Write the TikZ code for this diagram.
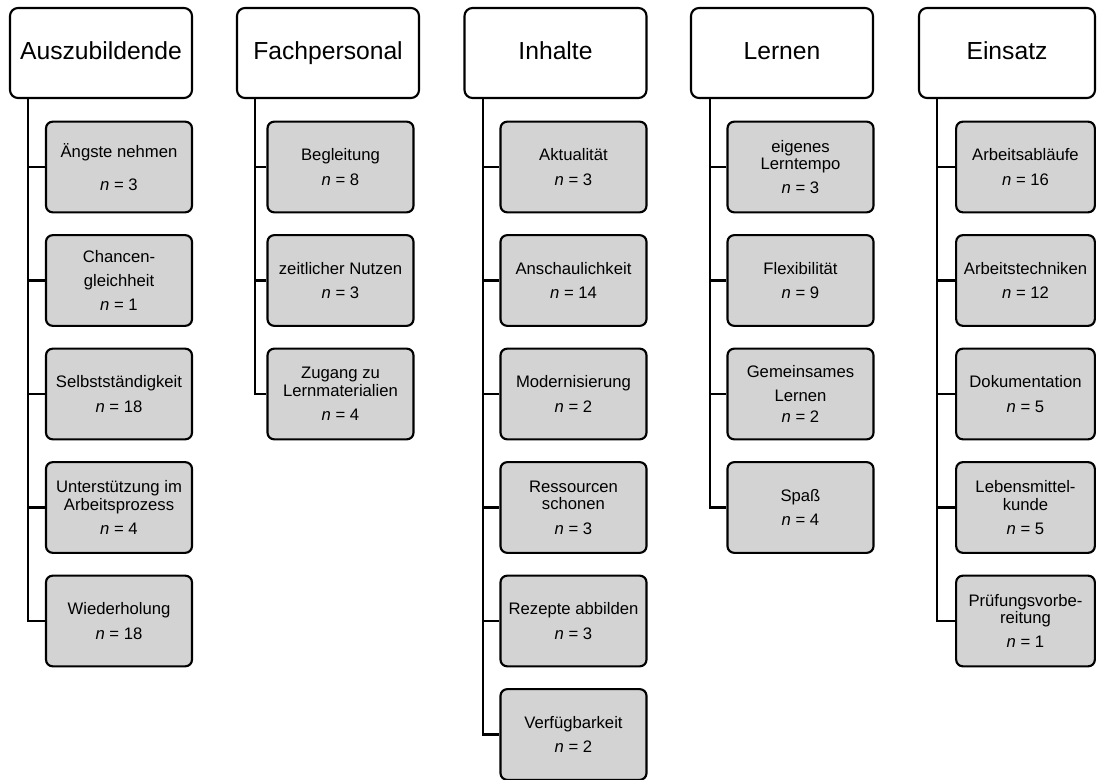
\documentclass[tikz,border=0pt]{standalone}
\usepackage{fontspec}
\setmainfont{Liberation Sans}
\usetikzlibrary{positioning}

\definecolor{kastengrau}{RGB}{211,211,211}
\newcommand{\nwert}[1]{\textit{n} = #1}

\tikzset{
  kopf/.style={draw, line width=1.6pt, rounded corners=6pt, fill=white,
    minimum width=136.5pt, minimum height=67.5pt, inner sep=0pt,
    text height=13.5pt, text depth=4pt,
    font=\fontsize{18.5}{22}\selectfont},
  kind/.style={draw, line width=1.6pt, rounded corners=5pt, fill=kastengrau,
    minimum width=109.5pt, minimum height=68pt, inner sep=0pt, align=center,
    font=\fontsize{12.5}{13.2}\selectfont},
  ast/.style={line width=1.6pt}
}

\begin{document}
\begin{tikzpicture}[x=0.75pt, y=-0.75pt]
  \useasboundingbox (0,0) rectangle (1097,780);

  % Auszubildende
  \node[kopf] (k1) at (101,53) {Auszubildende};
  \coordinate (t1) at (28,98);
  \foreach \txt [count=\k] in {
      {Ängste nehmen\\[11pt]\nwert{3}},
      {Chancen-\\[5pt]gleichheit\\[5pt]\nwert{1}},
      {Selbstständigkeit\\[5pt]\nwert{18}},
      {Unterstützung im\\Arbeitsprozess\\[5pt]\nwert{4}},
      {Wiederholung\\[5pt]\nwert{18}}}{
    \node[kind] (a\k) at (119,{167+113.5*(\k-1)}) {\txt};
    \draw[ast] (t1) |- (a\k.west);
  }

  % Fachpersonal
  \node[kopf] (k2) at (328,53) {Fachpersonal};
  \coordinate (t2) at (255,98);
  \foreach \txt [count=\k] in {
      {Begleitung\\[5pt]\nwert{8}},
      {zeitlicher Nutzen\\[5pt]\nwert{3}},
      {Zugang zu\\Lernmaterialien\\[5pt]\nwert{4}}}{
    \node[kind] (b\k) at (340.5,{167+113.5*(\k-1)}) {\txt};
    \draw[ast] (t2) |- (b\k.west);
  }

  % Inhalte
  \node[kopf] (k3) at (555.5,53) {Inhalte};
  \coordinate (t3) at (483,98);
  \foreach \txt [count=\k] in {
      {Aktualität\\[5pt]\nwert{3}},
      {Anschaulichkeit\\[5pt]\nwert{14}},
      {Modernisierung\\[5pt]\nwert{2}},
      {Ressourcen\\schonen\\[5pt]\nwert{3}},
      {Rezepte abbilden\\[5pt]\nwert{3}},
      {Verfügbarkeit\\[5pt]\nwert{2}}}{
    \node[kind] (c\k) at (573.5,{167+113.5*(\k-1)}) {\txt};
    \draw[ast] (t3) |- (c\k.west);
  }

  % Lernen
  \node[kopf] (k4) at (782,53) {Lernen};
  \coordinate (t4) at (710,98);
  \foreach \txt [count=\k] in {
      {eigenes\\Lerntempo\\[5pt]\nwert{3}},
      {Flexibilität\\[5pt]\nwert{9}},
      {Gemeinsames\\[5pt]Lernen\\[3pt]\nwert{2}},
      {Spaß\\[5pt]\nwert{4}}}{
    \node[kind] (d\k) at (800.5,{167+113.5*(\k-1)}) {\txt};
    \draw[ast] (t4) |- (d\k.west);
  }

  % Einsatz
  \node[kopf, minimum width=132pt] (k5) at (1007,53) {Einsatz};
  \coordinate (t5) at (937,98);
  \foreach \txt [count=\k] in {
      {Arbeitsabläufe\\[5pt]\nwert{16}},
      {Arbeitstechniken\\[5pt]\nwert{12}},
      {Dokumentation\\[5pt]\nwert{5}},
      {Lebensmittel-\\kunde\\[5pt]\nwert{5}},
      {Prüfungsvorbe-\\reitung\\[5pt]\nwert{1}}}{
    \node[kind, minimum width=104pt] (e\k) at (1025.5,{167+113.5*(\k-1)}) {\txt};
    \draw[ast] (t5) |- (e\k.west);
  }
\end{tikzpicture}
\end{document}
